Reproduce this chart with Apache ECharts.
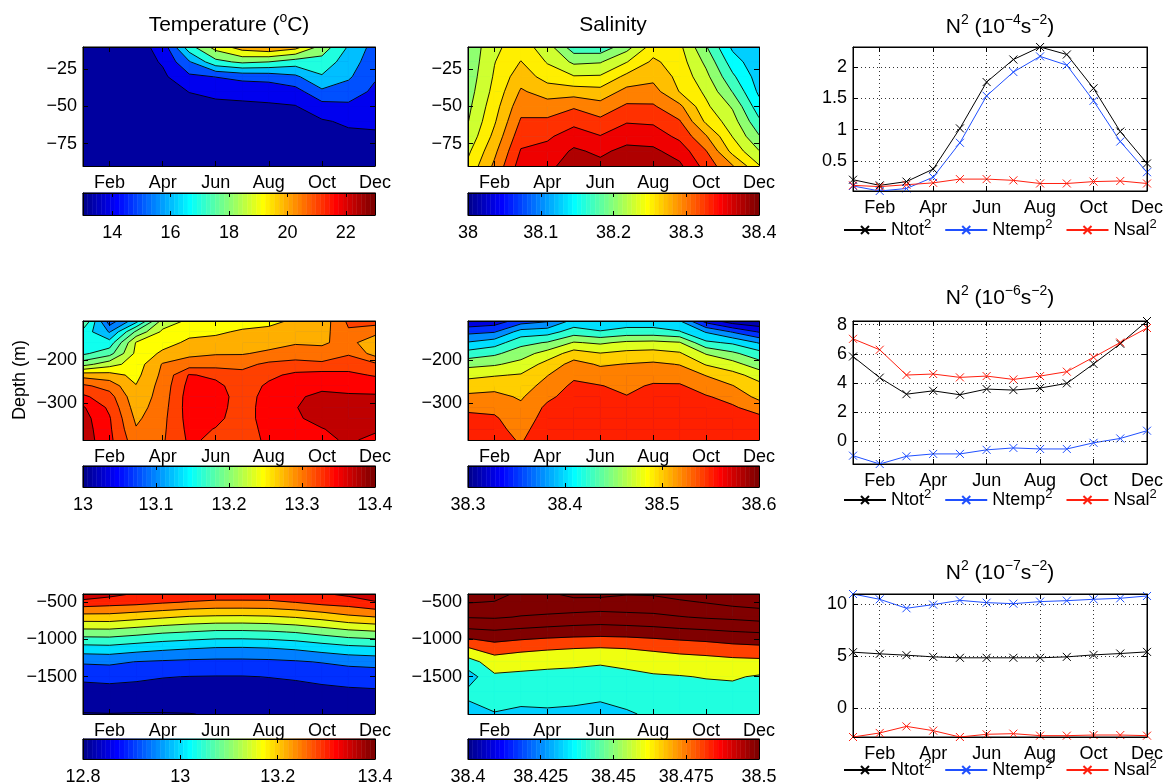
<!DOCTYPE html>
<html>
<head>
<meta charset="utf-8">
<title>Seasonal T, S and N2</title>
<script src="https://cdn.jsdelivr.net/npm/echarts@6.0.0/dist/echarts.min.js"></script>
<style>
  html, body { margin: 0; padding: 0; background: #fff; }
  #main { width: 1165px; height: 784px; }
</style>
</head>
<body>
<div id="main"></div>
<script>
var FONT = '"Liberation Sans", Arial, Helvetica, sans-serif';

var months = [1, 2, 3, 4, 5, 6, 7, 8, 9, 10, 11, 12];
var monthNames = ['Jan', 'Feb', 'Mar', 'Apr', 'May', 'Jun', 'Jul', 'Aug', 'Sep', 'Oct', 'Nov', 'Dec'];
var monthTicks = [2, 4, 6, 8, 10, 12];

// depths (m) of the monthly profiles
var depthUpper = [-10, -20, -30, -40, -50, -60, -70, -80, -90];
var depthMiddle = [-110, -135, -160, -185, -210, -235, -260, -285, -310, -335, -360, -385];
var depthDeep = [-390, -500, -700, -900, -1100, -1300, -1500, -1700, -2000];

var depthUpperTicks = [-75, -50, -25];
var depthMiddleTicks = [-300, -200];
var depthDeepTicks = [-1500, -1000, -500];

// one profile per month (Jan..Dec), shallow to deep
var tempUpper = [
  [13.5, 13.48, 13.45, 13.4, 13.35, 13.3, 13.25, 13.2, 13.2],
  [13.3, 13.3, 13.28, 13.26, 13.24, 13.2, 13.18, 13.15, 13.15],
  [13.55, 13.5, 13.45, 13.4, 13.3, 13.25, 13.2, 13.18, 13.15],
  [14.4, 14.1, 13.8, 13.6, 13.5, 13.4, 13.3, 13.25, 13.2],
  [17.6, 15.9, 14.8, 14.02, 13.7, 13.5, 13.4, 13.3, 13.25],
  [19.4, 17.7, 15.02, 14.2, 13.8, 13.6, 13.45, 13.35, 13.3],
  [20.5, 18.2, 15.3, 14.25, 13.85, 13.65, 13.5, 13.4, 13.3],
  [20.9, 18.0, 15.4, 14.3, 13.9, 13.65, 13.5, 13.4, 13.35],
  [20.4, 17.5, 15.8, 14.6, 13.95, 13.7, 13.55, 13.45, 13.4],
  [18.6, 17.6, 16.9, 15.8, 14.6, 13.9, 13.7, 13.55, 13.45],
  [16.9, 16.5, 16.15, 15.5, 14.8, 14.15, 13.8, 13.6, 13.5],
  [15.6, 15.4, 15.1, 14.8, 14.5, 14.2, 13.85, 13.65, 13.5]
];
var saltUpper = [
  [38.205, 38.207, 38.210, 38.214, 38.219, 38.224, 38.232, 38.245, 38.256],
  [38.245, 38.249, 38.253, 38.258, 38.265, 38.272, 38.282, 38.294, 38.305],
  [38.262, 38.276, 38.290, 38.303, 38.316, 38.328, 38.340, 38.352, 38.362],
  [38.237, 38.248, 38.264, 38.290, 38.310, 38.330, 38.346, 38.358, 38.367],
  [38.185, 38.220, 38.252, 38.288, 38.322, 38.343, 38.362, 38.379, 38.390],
  [38.183, 38.223, 38.253, 38.284, 38.310, 38.331, 38.351, 38.370, 38.382],
  [38.215, 38.249, 38.282, 38.308, 38.329, 38.348, 38.365, 38.382, 38.392],
  [38.262, 38.280, 38.293, 38.310, 38.328, 38.346, 38.363, 38.380, 38.390],
  [38.256, 38.262, 38.268, 38.274, 38.306, 38.327, 38.344, 38.364, 38.380],
  [38.202, 38.219, 38.232, 38.245, 38.255, 38.270, 38.302, 38.326, 38.340],
  [38.145, 38.162, 38.180, 38.199, 38.222, 38.236, 38.249, 38.267, 38.302],
  [38.128, 38.132, 38.138, 38.145, 38.160, 38.180, 38.202, 38.226, 38.252]
];
var tempMiddle = [
  [13.205, 13.165, 13.155, 13.17, 13.215, 13.29, 13.33, 13.355, 13.378, 13.385, 13.388, 13.39],
  [13.085, 13.123, 13.16, 13.19, 13.24, 13.285, 13.315, 13.335, 13.345, 13.352, 13.354, 13.356],
  [13.14, 13.205, 13.252, 13.256, 13.262, 13.268, 13.276, 13.282, 13.288, 13.295, 13.302, 13.31],
  [13.235, 13.255, 13.265, 13.28, 13.302, 13.306, 13.31, 13.312, 13.315, 13.318, 13.32, 13.322],
  [13.255, 13.268, 13.28, 13.294, 13.312, 13.352, 13.358, 13.362, 13.362, 13.36, 13.357, 13.354],
  [13.258, 13.27, 13.285, 13.298, 13.315, 13.345, 13.356, 13.36, 13.358, 13.355, 13.349, 13.345],
  [13.262, 13.279, 13.289, 13.298, 13.318, 13.332, 13.338, 13.34, 13.34, 13.34, 13.338, 13.336],
  [13.27, 13.28, 13.29, 13.305, 13.33, 13.345, 13.354, 13.358, 13.36, 13.36, 13.358, 13.356],
  [13.278, 13.285, 13.298, 13.31, 13.335, 13.355, 13.365, 13.372, 13.374, 13.372, 13.365, 13.36],
  [13.285, 13.29, 13.296, 13.31, 13.33, 13.36, 13.37, 13.38, 13.385, 13.382, 13.374, 13.37],
  [13.33, 13.322, 13.31, 13.322, 13.34, 13.355, 13.368, 13.378, 13.385, 13.385, 13.382, 13.378],
  [13.335, 13.31, 13.28, 13.29, 13.33, 13.348, 13.365, 13.378, 13.385, 13.385, 13.378, 13.37]
];
var saltMiddle = [
  [38.328, 38.368, 38.402, 38.435, 38.467, 38.493, 38.513, 38.530, 38.545, 38.556, 38.560, 38.563],
  [38.335, 38.373, 38.413, 38.445, 38.472, 38.498, 38.517, 38.532, 38.544, 38.553, 38.556, 38.558],
  [38.362, 38.410, 38.442, 38.464, 38.483, 38.502, 38.512, 38.522, 38.530, 38.536, 38.543, 38.548],
  [38.372, 38.414, 38.452, 38.485, 38.509, 38.524, 38.535, 38.545, 38.555, 38.560, 38.563, 38.565],
  [38.408, 38.437, 38.477, 38.511, 38.534, 38.545, 38.555, 38.560, 38.563, 38.565, 38.566, 38.567],
  [38.405, 38.427, 38.471, 38.501, 38.522, 38.537, 38.551, 38.556, 38.559, 38.561, 38.562, 38.563],
  [38.410, 38.435, 38.480, 38.507, 38.526, 38.535, 38.544, 38.551, 38.554, 38.556, 38.557, 38.558],
  [38.410, 38.435, 38.482, 38.509, 38.529, 38.540, 38.553, 38.557, 38.560, 38.562, 38.563, 38.564],
  [38.402, 38.427, 38.477, 38.503, 38.524, 38.538, 38.553, 38.557, 38.560, 38.562, 38.563, 38.564],
  [38.340, 38.398, 38.430, 38.473, 38.498, 38.524, 38.538, 38.552, 38.556, 38.558, 38.559, 38.560],
  [38.310, 38.373, 38.421, 38.455, 38.485, 38.508, 38.526, 38.542, 38.553, 38.556, 38.558, 38.559],
  [38.302, 38.348, 38.398, 38.435, 38.460, 38.490, 38.507, 38.518, 38.540, 38.556, 38.559, 38.560]
];
var tempDeep = [
  [13.392, 13.331, 13.228, 13.130, 13.037, 12.957, 12.910, 12.882, 12.848],
  [13.366, 13.322, 13.229, 13.131, 13.040, 12.960, 12.914, 12.884, 12.849],
  [13.345, 13.317, 13.217, 13.120, 13.028, 12.949, 12.909, 12.882, 12.848],
  [13.340, 13.306, 13.206, 13.107, 13.017, 12.944, 12.902, 12.880, 12.848],
  [13.335, 13.297, 13.195, 13.099, 13.009, 12.940, 12.899, 12.879, 12.849],
  [13.330, 13.290, 13.191, 13.090, 13.003, 12.938, 12.898, 12.880, 12.853],
  [13.330, 13.290, 13.190, 13.090, 13.002, 12.938, 12.898, 12.882, 12.856],
  [13.330, 13.291, 13.193, 13.094, 13.005, 12.940, 12.901, 12.883, 12.857],
  [13.335, 13.301, 13.202, 13.103, 13.013, 12.945, 12.905, 12.885, 12.858],
  [13.345, 13.317, 13.217, 13.119, 13.028, 12.953, 12.911, 12.890, 12.862],
  [13.360, 13.325, 13.238, 13.135, 13.041, 12.964, 12.917, 12.893, 12.865],
  [13.390, 13.345, 13.249, 13.144, 13.047, 12.969, 12.920, 12.895, 12.868]
];
var saltDeep = [
  [38.573, 38.561, 38.541, 38.514, 38.481, 38.452, 38.430, 38.444, 38.434],
  [38.568, 38.559, 38.542, 38.517, 38.492, 38.470, 38.457, 38.450, 38.439],
  [38.555, 38.551, 38.539, 38.514, 38.487, 38.467, 38.456, 38.448, 38.436],
  [38.557, 38.552, 38.537, 38.511, 38.484, 38.465, 38.455, 38.448, 38.437],
  [38.565, 38.554, 38.534, 38.509, 38.482, 38.464, 38.454, 38.447, 38.436],
  [38.565, 38.553, 38.532, 38.508, 38.481, 38.462, 38.453, 38.445, 38.434],
  [38.561, 38.553, 38.534, 38.509, 38.482, 38.465, 38.455, 38.448, 38.438],
  [38.562, 38.552, 38.536, 38.511, 38.485, 38.468, 38.458, 38.452, 38.443],
  [38.567, 38.557, 38.539, 38.514, 38.488, 38.471, 38.459, 38.453, 38.444],
  [38.572, 38.561, 38.542, 38.516, 38.491, 38.472, 38.461, 38.454, 38.445],
  [38.575, 38.566, 38.544, 38.519, 38.495, 38.474, 38.462, 38.455, 38.446],
  [38.578, 38.569, 38.547, 38.521, 38.497, 38.475, 38.458, 38.452, 38.447]
];

// contour levels, colour of the region under the lowest level, colour limits
var tempUpperLevels = [14, 15, 16, 17, 18, 19, 20, 21, 22];
var saltUpperLevels = [38.125, 38.15, 38.175, 38.2, 38.225, 38.25, 38.275, 38.3, 38.325, 38.35, 38.375];
var tempMiddleLevels = [13.1, 13.125, 13.15, 13.175, 13.2, 13.225, 13.25, 13.275, 13.3, 13.325, 13.35, 13.375];
var saltMiddleLevels = [38.325, 38.35, 38.375, 38.4, 38.425, 38.45, 38.475, 38.5, 38.525, 38.55];
var tempDeepLevels = [12.85, 12.9, 12.95, 13.0, 13.05, 13.1, 13.15, 13.2, 13.25, 13.3, 13.35];
var saltDeepLevels = [38.44, 38.46, 38.48, 38.5, 38.52, 38.54, 38.56];

var tempUpperFloor = 13.2, saltUpperFloor = 38.12, tempMiddleFloor = 13.085;
var saltMiddleFloor = 38.31, tempDeepFloor = 12.81, saltDeepFloor = 38.432;
var tempDeepLowBand = 12.815;   // the deepest band of the deep temperature panel reads as navy

var tempUpperRange = [13, 23], saltUpperRange = [38, 38.4];
var tempMiddleRange = [13, 13.4], saltMiddleRange = [38.3, 38.6];
var tempDeepRange = [12.8, 13.4], saltDeepRange = [38.4, 38.5];

// colour bar tick labels
var tempUpperBar = [14, 16, 18, 20, 22];
var saltUpperBar = [38, 38.1, 38.2, 38.3, 38.4];
var tempMiddleBar = [13, 13.1, 13.2, 13.3, 13.4];
var saltMiddleBar = [38.3, 38.4, 38.5, 38.6];
var tempDeepBar = [12.8, 13, 13.2, 13.4];
var saltDeepBar = [38.4, 38.425, 38.45, 38.475, 38.5];

// N^2 monthly means
var n2UpperTot = [0.2, 0.11, 0.17, 0.37, 1.02, 1.76, 2.12, 2.32, 2.2, 1.66, 0.97, 0.46];
var n2UpperTemp = [0.1, 0.02, 0.06, 0.24, 0.79, 1.54, 1.92, 2.17, 2.03, 1.46, 0.81, 0.32];
var n2UpperSal = [0.11, 0.09, 0.12, 0.15, 0.21, 0.21, 0.19, 0.14, 0.14, 0.17, 0.18, 0.14];
var n2MiddleTot = [5.82, 4.37, 3.24, 3.47, 3.2, 3.59, 3.52, 3.66, 3.98, 5.31, 6.69, 8.25];
var n2MiddleTemp = [-0.97, -1.54, -1.01, -0.85, -0.85, -0.57, -0.44, -0.51, -0.51, -0.09, 0.21, 0.74];
var n2MiddleSal = [7.03, 6.28, 4.55, 4.62, 4.39, 4.48, 4.25, 4.48, 4.78, 5.77, 6.78, 7.77];
var n2DeepTot = [5.4, 5.24, 5.11, 4.95, 4.86, 4.86, 4.86, 4.86, 4.95, 5.14, 5.27, 5.43];
var n2DeepTemp = [10.99, 10.48, 9.62, 9.97, 10.38, 10.16, 10.06, 10.26, 10.35, 10.48, 10.58, 10.8];
var n2DeepSal = [-2.75, -2.36, -1.73, -2.14, -2.75, -2.49, -2.43, -2.62, -2.62, -2.56, -2.56, -2.62];

var n2UpperTicks = [0.5, 1, 1.5, 2];
var n2MiddleTicks = [0, 2, 4, 6, 8];
var n2DeepTicks = [0, 5, 10];

var lineColors = {Ntot: '#000000', Ntemp: '#2050ff', Nsal: '#ff2010'};
var CROSS = 'path://M0,0L10,10M10,0L0,10';

/* matlab jet(64) */
function jetU(i) { return i <= 16 ? i / 16 : (i <= 31 ? 1 : (48 - i) / 16); }
function jet64(k) {
    var r = k >= 25 ? jetU(k - 24) : 0;
    var g = (k >= 9 && k <= 55) ? jetU(k - 8) : 0;
    var b = k <= 39 ? jetU(k + 8) : 0;
    return 'rgb(' + Math.round(r * 255) + ',' + Math.round(g * 255) + ',' + Math.round(b * 255) + ')';
}
function colorFor(v, clim) {
    var k = Math.floor((v - clim[0]) / (clim[1] - clim[0]) * 64) + 1;
    return jet64(Math.max(1, Math.min(64, k)));
}
function fmtNum(v) { return String(v).replace('-', '\u2212'); }
function fmtMonth(v) { return monthNames[Math.round(v) - 1]; }

/* keep the part of a cell where value >= level */
function clipAbove(poly, level) {
    var out = [];
    for (var i = 0; i < poly.length; i++) {
        var a = poly[i], b = poly[(i + 1) % poly.length];
        var ina = a.v >= level, inb = b.v >= level;
        if (ina) out.push(a);
        if (ina !== inb) {
            var t = (level - a.v) / (b.v - a.v);
            out.push({x: a.x + t * (b.x - a.x), y: a.y + t * (b.y - a.y), v: level});
        }
    }
    return out;
}

function buildContour(p, api) {
    var kids = [];
    var xs = months, ys = p.depths, z = p.field;
    var nx = xs.length, ny = ys.length;
    var c0 = api.coord([xs[0], ys[0]]), c1 = api.coord([xs[nx - 1], ys[ny - 1]]);
    kids.push({type: 'rect', silent: true,
        shape: {x: Math.min(c0[0], c1[0]), y: Math.min(c0[1], c1[1]), width: Math.abs(c1[0] - c0[0]), height: Math.abs(c1[1] - c0[1])},
        style: {fill: colorFor(p.floor, p.clim)}});
    var cells = [];
    for (var i = 0; i < nx - 1; i++) {
        for (var j = 0; j < ny - 1; j++) {
            cells.push([
                {x: xs[i], y: ys[j], v: z[i][j]},
                {x: xs[i + 1], y: ys[j], v: z[i + 1][j]},
                {x: xs[i + 1], y: ys[j + 1], v: z[i + 1][j + 1]},
                {x: xs[i], y: ys[j + 1], v: z[i][j + 1]}
            ]);
        }
    }
    var lev = p.levels, k, c, q;
    // filled bands, lowest first
    for (k = 0; k < lev.length; k++) {
        var col = colorFor((k === 0 && p.lowBand != null) ? p.lowBand : lev[k], p.clim);
        for (c = 0; c < cells.length; c++) {
            q = cells[c];
            var lo = Math.min(q[0].v, q[1].v, q[2].v, q[3].v);
            var hi = Math.max(q[0].v, q[1].v, q[2].v, q[3].v);
            if (hi < lev[k]) continue;
            if (k + 1 < lev.length && lo >= lev[k + 1]) continue;
            var poly = clipAbove(q, lev[k]);
            if (poly.length < 3) continue;
            kids.push({type: 'polygon', silent: true,
                shape: {points: poly.map(function (o) { return api.coord([o.x, o.y]); })},
                style: {fill: col, stroke: col, lineWidth: 0.6}});
        }
    }
    // contour lines
    function seg(a, b) {
        kids.push({type: 'line', silent: true, shape: {x1: a[0], y1: a[1], x2: b[0], y2: b[1]},
            style: {stroke: '#000', lineWidth: 0.9}});
    }
    for (k = 0; k < lev.length; k++) {
        var L = lev[k];
        for (c = 0; c < cells.length; c++) {
            q = cells[c];
            var pts = [], n = 0;
            for (var e = 0; e < 4; e++) {
                var a = q[e], b = q[(e + 1) % 4];
                if ((a.v >= L) !== (b.v >= L)) {
                    var t = (L - a.v) / (b.v - a.v);
                    pts.push(api.coord([a.x + t * (b.x - a.x), a.y + t * (b.y - a.y)]));
                    n++;
                } else {
                    pts.push(null);
                }
            }
            if (n === 2) {
                var got = pts.filter(function (o) { return o; });
                seg(got[0], got[1]);
            } else if (n === 4) {
                if (q[0].v >= L) { seg(pts[0], pts[1]); seg(pts[2], pts[3]); }
                else { seg(pts[1], pts[2]); seg(pts[3], pts[0]); }
            }
        }
    }
    return kids;
}

var option = {
    animation: false,
    backgroundColor: '#ffffff',
    textStyle: {fontFamily: FONT},
    grid: [], xAxis: [], yAxis: [], series: [], legend: [], graphic: []
};

function addGrid(box) {
    option.grid.push({left: box[0], top: box[1], width: box[2], height: box[3],
        show: true, borderColor: '#000', borderWidth: 1, backgroundColor: 'transparent',
        containLabel: false, outerBoundsMode: 'none'});
    return option.grid.length - 1;
}

function addAxis(kind, gi, pos, min, max, ticks, fmt, showLabel, margin, dotted, tickLen) {
    option[kind].push({
        gridIndex: gi, type: 'value', position: pos, min: min, max: max, z: 5,
        axisLine: {show: true, onZero: false, lineStyle: {color: '#000', width: 1}},
        axisTick: {show: ticks.length > 0, inside: true, length: tickLen, customValues: ticks, lineStyle: {color: '#000', width: 1}},
        axisLabel: {show: showLabel, customValues: ticks, formatter: fmt, margin: margin,
            color: '#000', fontSize: 18, fontFamily: FONT},
        splitLine: dotted ? {show: true, lineStyle: {color: '#333', width: 1, type: [1, 3]}} : {show: false}
    });
    return option[kind].length - 1;
}

function addText(x, y, text, size, rot) {
    option.graphic.push({type: 'text', x: x, y: y, rotation: rot || 0, silent: true, z: 10,
        style: {text: text, fill: '#000', fontSize: size, fontFamily: FONT, align: 'center', verticalAlign: 'middle',
            lineHeight: 28, rich: {sup: {fontSize: 14, fontFamily: FONT, fill: '#000', lineHeight: 16, verticalAlign: 'top'}}}});
}

var contourPanels = [
    {box: [83, 47, 292, 119], depths: depthUpper, yTicks: depthUpperTicks, field: tempUpper, levels: tempUpperLevels,
        floor: tempUpperFloor, clim: tempUpperRange, bar: [83, 193, 292, 22], barTicks: tempUpperBar},
    {box: [468, 47, 291, 119], depths: depthUpper, yTicks: depthUpperTicks, field: saltUpper, levels: saltUpperLevels,
        floor: saltUpperFloor, clim: saltUpperRange, bar: [468, 193, 291, 22], barTicks: saltUpperBar},
    {box: [83, 321, 292, 119], depths: depthMiddle, yTicks: depthMiddleTicks, field: tempMiddle, levels: tempMiddleLevels,
        floor: tempMiddleFloor, clim: tempMiddleRange, bar: [83, 466, 292, 21], barTicks: tempMiddleBar},
    {box: [468, 321, 291, 119], depths: depthMiddle, yTicks: depthMiddleTicks, field: saltMiddle, levels: saltMiddleLevels,
        floor: saltMiddleFloor, clim: saltMiddleRange, bar: [468, 466, 291, 21], barTicks: saltMiddleBar},
    {box: [83, 594, 292, 120], depths: depthDeep, yTicks: depthDeepTicks, field: tempDeep, levels: tempDeepLevels,
        floor: tempDeepFloor, lowBand: tempDeepLowBand, clim: tempDeepRange, bar: [83, 739, 292, 20], barTicks: tempDeepBar},
    {box: [468, 594, 291, 120], depths: depthDeep, yTicks: depthDeepTicks, field: saltDeep, levels: saltDeepLevels,
        floor: saltDeepFloor, clim: saltDeepRange, bar: [468, 739, 291, 20], barTicks: saltDeepBar}
];

contourPanels.forEach(function (p) {
    var gi = addGrid(p.box);
    var d = p.depths;
    var ymin = Math.min(d[0], d[d.length - 1]), ymax = Math.max(d[0], d[d.length - 1]);
    var xi = addAxis('xAxis', gi, 'bottom', 1, 12, monthTicks, fmtMonth, true, 8, false, 5);
    addAxis('xAxis', gi, 'top', 1, 12, monthTicks, fmtMonth, false, 8, false, 5);
    var yi = addAxis('yAxis', gi, 'left', ymin, ymax, p.yTicks, fmtNum, true, 6, false, 5);
    addAxis('yAxis', gi, 'right', ymin, ymax, p.yTicks, fmtNum, false, 6, false, 5);
    option.series.push({
        type: 'custom', xAxisIndex: xi, yAxisIndex: yi, clip: true, silent: true,
        data: [[months[0], d[0]]],
        renderItem: function (params, api) {
            return {type: 'group', children: buildContour(p, api)};
        }
    });

    // colour bar
    var bi = addGrid(p.bar);
    var bx = addAxis('xAxis', bi, 'bottom', p.clim[0], p.clim[1], p.barTicks, fmtNum, true, 9, false, 4);
    addAxis('xAxis', bi, 'top', p.clim[0], p.clim[1], p.barTicks, fmtNum, false, 9, false, 4);
    var by = addAxis('yAxis', bi, 'left', 0, 1, [], fmtNum, false, 6, false, 0);
    addAxis('yAxis', bi, 'right', 0, 1, [], fmtNum, false, 6, false, 0);
    var w = (p.clim[1] - p.clim[0]) / 64, steps = [];
    for (var i = 0; i < 64; i++) steps.push([p.clim[0] + (i + 0.5) * w, 0.5]);
    option.series.push({
        type: 'custom', xAxisIndex: bx, yAxisIndex: by, silent: true, data: steps,
        renderItem: function (params, api) {
            var i = params.dataIndex;
            var a = api.coord([p.clim[0] + i * w, 1]), b = api.coord([p.clim[0] + (i + 1) * w, 0]);
            var col = jet64(i + 1);
            return {type: 'rect', shape: {x: a[0], y: a[1], width: b[0] - a[0], height: b[1] - a[1]},
                style: {fill: col, stroke: col, lineWidth: 0.5}};
        }
    });
});

var linePanels = [
    {box: [853, 47, 294, 144], tot: n2UpperTot, temp: n2UpperTemp, sal: n2UpperSal, yTicks: n2UpperTicks,
        legendTop: 218, title: 'N{sup|2} (10{sup|\u22124}s{sup|\u22122})', titleY: 27},
    {box: [853, 321, 294, 143], tot: n2MiddleTot, temp: n2MiddleTemp, sal: n2MiddleSal, yTicks: n2MiddleTicks,
        legendTop: 488, title: 'N{sup|2} (10{sup|\u22126}s{sup|\u22122})', titleY: 298},
    {box: [853, 594, 294, 143], tot: n2DeepTot, temp: n2DeepTemp, sal: n2DeepSal, yTicks: n2DeepTicks,
        legendTop: 758, title: 'N{sup|2} (10{sup|\u22127}s{sup|\u22122})', titleY: 573}
];

linePanels.forEach(function (p) {
    var gi = addGrid(p.box);
    var all = p.tot.concat(p.temp, p.sal);
    var ymin = Math.min.apply(null, all), ymax = Math.max.apply(null, all);
    var xi = addAxis('xAxis', gi, 'bottom', 1, 12, monthTicks, fmtMonth, true, 8, true, 5);
    addAxis('xAxis', gi, 'top', 1, 12, monthTicks, fmtMonth, false, 8, false, 5);
    var yi = addAxis('yAxis', gi, 'left', ymin, ymax, p.yTicks, fmtNum, true, 6, true, 5);
    addAxis('yAxis', gi, 'right', ymin, ymax, p.yTicks, fmtNum, false, 6, false, 5);
    [['Ntot', p.tot], ['Ntemp', p.temp], ['Nsal', p.sal]].forEach(function (s) {
        var color = lineColors[s[0]];
        option.series.push({
            type: 'line', name: s[0], xAxisIndex: xi, yAxisIndex: yi, z: 3,
            data: months.map(function (m, i) { return [m, s[1][i]]; }),
            symbol: CROSS, symbolSize: 8, showSymbol: true, clip: false,
            lineStyle: {color: color, width: 1},
            itemStyle: {color: color, borderColor: color, borderWidth: 1},
            emphasis: {disabled: true}
        });
    });
    option.legend.push({
        data: ['Ntot', 'Ntemp', 'Nsal'], left: 843, top: p.legendTop, orient: 'horizontal',
        itemWidth: 42, itemHeight: 10, itemGap: 13, selectedMode: false, padding: 0,
        formatter: function (name) { return name + '{sup|2}'; },
        textStyle: {color: '#000', fontSize: 18, fontFamily: FONT, lineHeight: 24,
            rich: {sup: {fontSize: 13, fontFamily: FONT, color: '#000', lineHeight: 14, verticalAlign: 'top'}}}
    });
    addText(1000, p.titleY, p.title, 21);
});

addText(229, 25, 'Temperature ({sup|o}C)', 21);
addText(613, 25, 'Salinity', 21);
addText(20, 380, 'Depth (m)', 18, Math.PI / 2);

var myChart = echarts.init(document.getElementById('main'), null, {renderer: 'canvas'});
myChart.setOption(option);
</script>
</body>
</html>
